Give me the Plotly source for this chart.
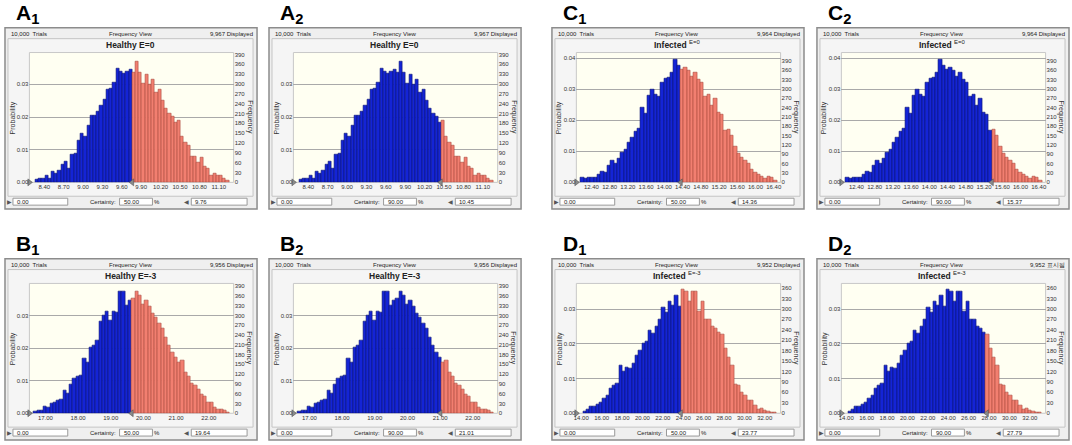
import plotly.graph_objects as go

FONT = "Liberation Sans, Arial, sans-serif"

# counts per bin (A, B, C, D)
healthy_e0_freq = [8, 11, 13, 20, 13, 33, 28, 35, 53, 63, 43, 86, 88, 128, 148, 140, 173, 205, 205, 215,
                   233, 253, 283, 285, 303, 346, 338, 331, 337, 345,
                   336, 370, 336, 300, 330, 298, 313, 275, 283, 250, 225, 210, 200, 183, 188, 140, 123, 112,
                   80, 80, 62, 75, 48, 43, 20, 28, 22, 20, 13, 7]
healthy_e3_freq = [6, 10, 8, 20, 18, 31, 33, 40, 41, 69, 61, 87, 107, 114, 117, 167, 157, 203, 208, 223,
                   280, 299, 313, 284, 313, 310, 375, 375, 330, 345,
                   352, 373, 360, 333, 345, 328, 307, 294, 276, 261, 231, 208, 185, 172, 155, 162, 125, 112,
                   91, 84, 74, 57, 52, 33, 33, 18, 11, 11, 8, 4]
infected_e0_freq = [16, 12, 16, 16, 16, 25, 36, 33, 53, 69, 59, 76, 97, 105, 128, 144, 163, 172, 241, 222,
                    279, 299, 283, 276, 321, 332, 337, 354, 395, 375,
                    361, 369, 358, 340, 354, 331, 320, 276, 283, 246, 268, 225, 217, 167, 169, 150, 115, 94,
                    81, 69, 60, 41, 32, 26, 19, 13, 19, 14, 6]
infected_e3_freq = [5, 10, 20, 20, 24, 31, 43, 52, 71, 79, 86, 136, 119, 131, 130, 144, 167, 181, 201, 206,
                    239, 229, 250, 270, 303, 290, 320, 310, 338, 308,
                    355, 350, 322, 350, 350, 293, 322, 271, 270, 249, 245, 232, 226, 186, 160, 136, 84, 79,
                    60, 50, 36, 36, 22, 10, 13, 7, 5, 3, 2]

bin_starts = [8.26, 16.64, 12.167, 14.16]
bin_widths = [0.05, 0.1, 0.0729, 0.322]
displayed = [9967, 9956, 9964, 9952]
titles = ["<b>Healthy E=0</b>", "<b>Healthy E=-3</b>", "<b>Infected</b> <sup>E=0</sup>", "<b>Infected</b> <sup>E=-3</sup>"]
x_tick0 = [8.40, 17.00, 12.40, 14.00]
x_dtick = [0.30, 1.00, 0.40, 2.00]
x_ranges = [(8.17, 11.33), (16.51, 22.76), (12.07, 16.55), (13.52, 33.55)]
freq_tops = [396, 398, 417, 373]
cut_50 = [9.76, 19.64, 14.36, 23.77]
cut_90 = [10.45, 21.01, 15.37, 27.79]
displayed_text = [["9,967 Displayed", "9,967 Displayed"], ["9,956 Displayed", "9,956 Displayed"],
                  ["9,964 Displayed", "9,964 Displayed"], ["9,952 Displayed", "9,952 표시됨"]]

freqs = [healthy_e0_freq, healthy_e3_freq, infected_e0_freq, infected_e3_freq]

# panel: (label, dataset, 0=50% / 1=90%, column, row)
panels = [("A", 0, 0, 0, 0), ("A", 0, 1, 1, 0), ("B", 1, 0, 0, 1), ("B", 1, 1, 1, 1),
          ("C", 2, 0, 2, 0), ("C", 2, 1, 3, 0), ("D", 3, 0, 2, 1), ("D", 3, 1, 3, 1)]

W, H = 1072, 445
col_left = [2, 267, 551, 817]
row_top = [27, 260]


def fx(x):
    return x / W


def fy(y):
    return 1 - y / H


fig = go.Figure()
shapes = []
annots = []
layout = {}

for k, (letter, d, which, col, row) in enumerate(panels, start=1):
    x0, y0 = col_left[col], row_top[row]
    cut = [cut_50, cut_90][which][d]
    cert = ["50.00", "90.00"][which]
    n = displayed[d]
    start, w = bin_starts[d], bin_widths[d]
    counts = freqs[d]
    centers = [start + w * (i + 0.5) for i in range(len(counts))]
    probs = [c / n for c in counts]
    is_blue = [c < cut for c in centers]
    fill = ["#1424d6" if b else "#f27f70" for b in is_blue]
    edge = ["#08106e" if b else "#a8473b" for b in is_blue]

    xa = "x" if k == 1 else f"x{k}"
    ya = "y" if k == 1 else f"y{k}"
    yr = f"y{k + 8}"

    fig.add_trace(go.Bar(x=centers, y=probs, width=w, xaxis=xa, yaxis=ya,
                         marker=dict(color=fill, line=dict(color=edge, width=0.6)),
                         showlegend=False, hoverinfo="skip"))
    # grabbers at the bottom of the chart
    fig.add_trace(go.Scatter(x=[x_ranges[d][0], cut], y=[0, 0], xaxis=xa, yaxis=ya, mode="markers",
                             marker=dict(symbol=["triangle-right", "triangle-left"], size=6,
                                         color="#8a8a8a", line=dict(color="#444", width=0.5)),
                             cliponaxis=False, showlegend=False, hoverinfo="skip"))
    # empty trace so the frequency axis gets drawn
    fig.add_trace(go.Scatter(x=[x_ranges[d][0]], y=[0], xaxis=xa, yaxis=yr, mode="markers",
                             marker=dict(opacity=0), showlegend=False, hoverinfo="skip"))

    pl, pr = x0 + 24.5, x0 + 229.5
    pt, pb = y0 + 25, y0 + 156
    dom_x = [fx(pl), fx(pr)]
    dom_y = [fy(pb), fy(pt)]
    tick_font = dict(family=FONT, size=6, color="#333")
    layout["xaxis" if k == 1 else f"xaxis{k}"] = dict(
        domain=dom_x, anchor=ya, range=list(x_ranges[d]), tick0=x_tick0[d], dtick=x_dtick[d],
        tickformat=".2f", showgrid=False, zeroline=False, showline=False, ticks="", tickfont=tick_font)
    layout["yaxis" if k == 1 else f"yaxis{k}"] = dict(
        domain=dom_y, anchor=xa, range=[0, freq_tops[d] / n], dtick=0.01, tickformat=".2f",
        showgrid=True, gridcolor="#a9a9a9", gridwidth=1, zeroline=False, ticks="", tickfont=tick_font)
    layout[f"yaxis{k + 8}"] = dict(
        overlaying=ya, side="right", anchor=xa, range=[0, freq_tops[d]], dtick=30,
        showgrid=False, zeroline=False, ticks="", tickfont=tick_font)

    # frame, inner frame, plot background
    shapes.append(dict(type="rect", xref="paper", yref="paper", x0=fx(x0), x1=fx(x0 + 253), y0=fy(y0 + 183),
                       y1=fy(y0), fillcolor="#efefef", line=dict(color="#8c8c8c", width=1.5), layer="below"))
    shapes.append(dict(type="rect", xref="paper", yref="paper", x0=fx(x0 + 3), x1=fx(x0 + 249), y0=fy(y0 + 170),
                       y1=fy(y0 + 11), fillcolor="#f5f5f5", line=dict(color="#c4c4c4", width=1), layer="below"))
    shapes.append(dict(type="rect", xref="paper", yref="paper", x0=fx(pl), x1=fx(pr), y0=fy(pb), y1=fy(pt),
                       fillcolor="#fffff2", line=dict(color="#c8c8c8", width=1), layer="below"))
    # input boxes at the bottom
    for bx0, bx1 in [(8, 63), (115, 148), (187, 243)]:
        shapes.append(dict(type="rect", xref="paper", yref="paper", x0=fx(x0 + bx0), x1=fx(x0 + bx1),
                           y0=fy(y0 + 179), y1=fy(y0 + 172), fillcolor="white",
                           line=dict(color="#9a9a9a", width=1), layer="below"))

    small = dict(family=FONT, size=6, color="#222")

    def txt(x, y, s, font, xanchor="center", angle=0):
        annots.append(dict(x=fx(x), y=fy(y), xref="paper", yref="paper", text=s, showarrow=False,
                           xanchor=xanchor, yanchor="middle", font=font, textangle=angle))

    txt(x0 + 9, y0 - 14, f"<b>{letter}</b><sub><b>{which + 1}</b></sub>",
        dict(family=FONT, size=21, color="black"), xanchor="left")
    txt(x0 + 4, y0 + 6, "10,000  Trials", small, xanchor="left")
    txt(x0 + 126, y0 + 6, "Frequency View", small)
    txt(x0 + 251, y0 + 6, displayed_text[d][which], small, xanchor="right")
    txt(x0 + 126, y0 + 17, titles[d], dict(family=FONT, size=8.5, color="#222"))
    txt(x0 + 8, (pt + pb) / 2, "Probability", dict(family=FONT, size=7, color="#333"), angle=-90)
    txt(x0 + 245, (pt + pb) / 2, "Frequency", dict(family=FONT, size=7, color="#333"), angle=90)
    txt(x0 + 5, y0 + 175.5, "▶", dict(family="DejaVu Sans", size=6, color="#555"))
    txt(x0 + 10, y0 + 175.5, "0.00", small, xanchor="left")
    txt(x0 + 113, y0 + 175.5, "Certainty:", small, xanchor="right")
    txt(x0 + 117, y0 + 175.5, cert, small, xanchor="left")
    txt(x0 + 153, y0 + 175.5, "%", small)
    txt(x0 + 182, y0 + 175.5, "◀", dict(family="DejaVu Sans", size=6, color="#555"))
    txt(x0 + 189, y0 + 175.5, f"{cut:.2f}", small, xanchor="left")

fig.update_layout(width=W, height=H, margin=dict(l=0, r=0, t=0, b=0), paper_bgcolor="white",
                  plot_bgcolor="rgba(0,0,0,0)", shapes=shapes, annotations=annots, bargap=0,
                  font=dict(family=FONT), **layout)

# the page's default body margin would push the figure off by 8px
fig.write_html("out.html", config={"displayModeBar": False},
               post_script="document.body.style.margin = '0';")
